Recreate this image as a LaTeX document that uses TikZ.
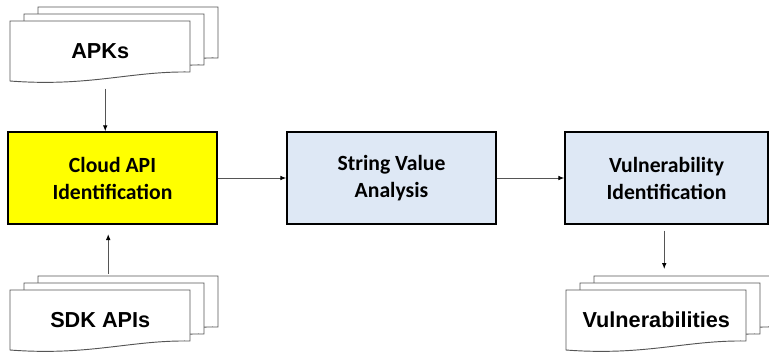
\documentclass[tikz,border=0pt]{standalone}
\usepackage{fontspec}
\usepackage{tikz}
\usetikzlibrary{arrows.meta}
\newfontfamily\docfont{Liberation Sans}
\newfontfamily\boxfont{Carlito}
\definecolor{stepyellow}{HTML}{FFFF00}
\definecolor{stepblue}{HTML}{DEE8F5}
\definecolor{docgray}{HTML}{555555}

\begin{document}
\begin{tikzpicture}[x=0.03cm, y=-0.03cm]
\tikzstyle{stage}=[rectangle, draw=black, line width=1.3pt, minimum width=6.27cm, minimum height=2.76cm, align=center, inner sep=0pt, font=\boxfont\bfseries\fontsize{18.5}{23}\selectfont]
\tikzstyle{doc}=[draw=docgray, fill=white, line width=0.8pt]
\tikzstyle{doclabel}=[rectangle, minimum width=5.4cm, minimum height=1.8cm, inner sep=0pt, anchor=north west, font=\docfont\bfseries\fontsize{18.5}{22}\selectfont]
\tikzstyle{arr}=[draw=docgray, line width=0.8pt, -{Latex[length=5pt,width=4pt,black]}]
\useasboundingbox (0,0) rectangle (769,352);
\clip (0,0) rectangle (769,352);

% document stacks
\foreach \sx/\sy in {10/21, 10/290, 566/290}{
  \foreach \dx/\dy in {28/14, 14/7, 0/0}{
    \draw[doc, shift={(\sx+\dx,\sy-\dy)}] (0,0) -- (180,0) -- (180,51) .. controls (120,50) and (80,66) .. (0,60) -- cycle;
  }
}
\node[doclabel] (apks) at (10,21) {APKs};
\node[doclabel] (sdk) at (10,290) {SDK APIs};
\node[doclabel] (vulns) at (566,290) {Vulnerabilities};

% stages
\node[stage, fill=stepyellow] (cloud) at (112.5,178) {Cloud API\\Identification};
\node[stage, fill=stepblue] (strval) at (391.5,178) {String Value\\Analysis};
\node[stage, fill=stepblue, minimum width=6.09cm] (vulnid) at (666.5,178) {Vulnerability\\Identification};

\draw[arr, shorten <=6pt] ([xshift=0.15cm]apks.south) -- ([xshift=0.15cm]apks.south |- cloud.north);
\draw[arr, shorten <=14pt, shorten >=8pt] ([xshift=0.24cm]sdk.north) -- ([xshift=0.24cm]sdk.north |- cloud.south);
\draw[arr] (cloud.east) -- (strval.west);
\draw[arr] (strval.east) -- (vulnid.west);
\draw[arr, shorten <=5pt, shorten >=18pt] ([xshift=0.24cm]vulns.north |- vulnid.south) -- ([xshift=0.24cm]vulns.north);
\end{tikzpicture}
\end{document}
